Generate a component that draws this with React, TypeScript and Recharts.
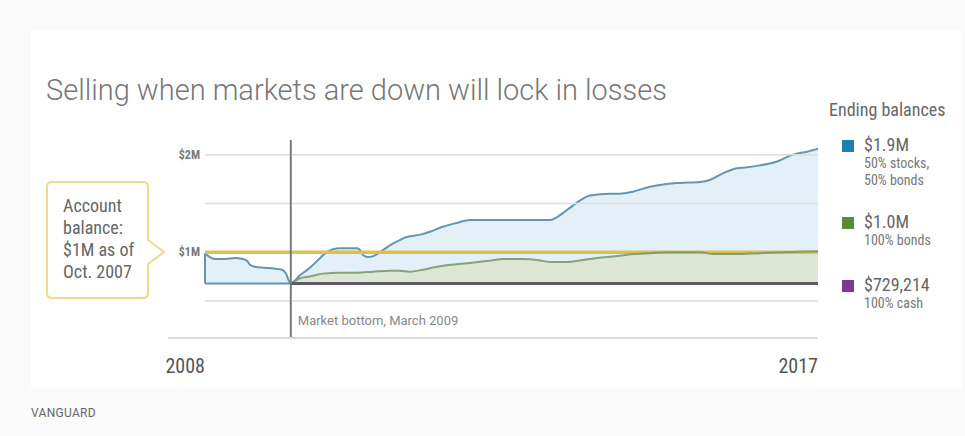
import React from "react";
import {
  ComposedChart,
  Area,
  Line,
  XAxis,
  YAxis,
  ReferenceLine,
} from "recharts";

// 50% stocks / 50% bonds balance, in $M
const stocksYears = [
  2008.0, 2008.07, 2008.15, 2008.29, 2008.44, 2008.56, 2008.62, 2008.66, 2008.73,
  2008.88, 2009.03, 2009.13, 2009.19, 2009.23, 2009.26, 2009.39, 2009.54, 2009.66,
  2009.79, 2009.88, 2009.98,
  2010.23, 2010.28, 2010.32, 2010.39, 2010.47, 2010.57, 2010.67, 2010.82, 2010.94,
  2011.16, 2011.3, 2011.49, 2011.7, 2011.89, 2012.23, 2012.62, 2013.07, 2013.17,
  2013.31, 2013.51, 2013.65, 2013.95, 2014.09, 2014.28, 2014.53, 2014.78, 2014.97,
  2015.27, 2015.41, 2015.61, 2015.81, 2015.96, 2016.15, 2016.4, 2016.63, 2016.84,
  2017.0,
];
const stocksValues = [
  0.99, 0.95, 0.93, 0.93, 0.94, 0.93, 0.91, 0.87, 0.85,
  0.84, 0.83, 0.82, 0.78, 0.71, 0.68, 0.76, 0.84, 0.92,
  1.0, 1.03, 1.04,
  1.04, 1.02, 0.97, 0.95, 0.96, 1.0, 1.05, 1.11, 1.15,
  1.18, 1.21, 1.26, 1.3, 1.33, 1.33, 1.33, 1.33, 1.36,
  1.43, 1.53, 1.58, 1.6, 1.6, 1.62, 1.67, 1.7, 1.71,
  1.72, 1.74, 1.81, 1.86, 1.87, 1.89, 1.93, 2.0, 2.03,
  2.06,
];

// 100% bonds balance, in $M
const bondsYears = [
  2009.26, 2009.39, 2009.54, 2009.73, 2009.98, 2010.23, 2010.47, 2010.72, 2010.86,
  2011.01, 2011.2, 2011.41, 2011.6, 2011.89, 2012.14, 2012.38, 2012.67, 2012.87,
  2013.07, 2013.31, 2013.55, 2013.76, 2014.05, 2014.28, 2014.53, 2014.78, 2015.27,
  2015.46, 2015.75, 2016.15, 2016.49, 2017.0,
];
const bondsValues = [
  0.68, 0.73, 0.75, 0.78, 0.79, 0.79, 0.8, 0.81, 0.81,
  0.8, 0.82, 0.85, 0.87, 0.89, 0.91, 0.93, 0.93, 0.92,
  0.9, 0.9, 0.92, 0.94, 0.96, 0.98, 0.99, 1.0, 1.0,
  0.98, 0.98, 0.99, 1.0, 1.01,
];

// 100% cash balance after selling at the bottom
const cashYears = [2009.26, 2017.0];
const cashValues = [0.68, 0.68];

// starting account balance
const accountYears = [2008.0, 2017.0];
const accountValues = [1.0, 1.0];

const marketBottom = 2009.26;
const gridValues = [2, 1.5, 1, 0.5];
const gridLabels = ["$2M", "", "$1M", ""];
const yearTicks = [2008, 2017];

const toRows = (xs: number[], ys: number[]) =>
  xs.map((x, i) => ({ year: x, value: ys[i] }));

const stocksData = toRows(stocksYears, stocksValues);
const bondsData = toRows(bondsYears, bondsValues);
const cashData = toRows(cashYears, cashValues);
const accountData = toRows(accountYears, accountValues);

const NARROW =
  '"Liberation Sans Narrow", "Roboto Condensed", "DejaVu Sans Condensed", Roboto, sans-serif';

const BLUE_LINE = "#6596ad";
const BLUE_FILL = "#e3f0f8";
const GREEN_LINE = "#77946a";
const GREEN_FILL = "#dde8d4";
const CASH = "#5e5a6c";
const GOLD = "#dcc14c";

const YearTick = (props: any) => {
  const { x, y, payload } = props;
  return (
    <text
      x={x}
      y={y + 35}
      textAnchor="end"
      fontFamily={NARROW}
      fontSize={20}
      fill="#555"
    >
      {payload.value}
    </text>
  );
};

const gridLabel = (text: string) => (props: any) => {
  if (!text) return null;
  const vb = props.viewBox || {};
  return (
    <text
      x={vb.x - 5}
      y={vb.y + 4}
      textAnchor="end"
      fontFamily={NARROW}
      fontSize={12}
      fontWeight={700}
      fill="#7a7a7a"
    >
      {text}
    </text>
  );
};

const bottomLabel = (props: any) => {
  const vb = props.viewBox || {};
  return (
    <text
      x={vb.x + 7}
      y={vb.y + vb.height - 13}
      fontFamily="Roboto, sans-serif"
      fontSize={13}
      fill="#888"
    >
      Market bottom, March 2009
    </text>
  );
};

const legendItems = [
  { color: "#1b7fb3", value: "$1.9M", lines: ["50% stocks,", "50% bonds"], top: 137 },
  { color: "#5b8a35", value: "$1.0M", lines: ["100% bonds"], top: 214 },
  { color: "#7b3a96", value: "$729,214", lines: ["100% cash"], top: 277 },
];

export default function App() {
  return (
    <div
      style={{
        position: "fixed",
        left: 0,
        top: 0,
        width: 965,
        height: 436,
        background: "#fafafa",
        overflow: "hidden",
      }}
    >
      <div
        style={{
          position: "absolute",
          left: 31,
          top: 29,
          width: 931,
          height: 360,
          background: "#fff",
        }}
      />
      <div
        style={{
          position: "absolute",
          left: 46,
          top: 73,
          fontFamily: "Roboto, sans-serif",
          fontWeight: 300,
          fontSize: 29,
          color: "#777",
          whiteSpace: "nowrap",
        }}
      >
        Selling when markets are down will lock in losses
      </div>

      <div style={{ position: "absolute", left: 0, top: 0 }}>
        <ComposedChart
          width={965}
          height={436}
          margin={{ top: 140, right: 147, bottom: 68, left: 168 }}
        >
          <XAxis
            dataKey="year"
            type="number"
            domain={[2007.457, 2017]}
            ticks={yearTicks}
            tick={<YearTick />}
            tickLine={false}
            tickSize={0}
            tickMargin={0}
            height={30}
            axisLine={{ stroke: "#dcdcdc", strokeWidth: 2 }}
            allowDataOverflow
          />
          <YAxis hide type="number" domain={[0.12, 2.15]} allowDataOverflow />

          {gridValues.map((v, i) => (
            <ReferenceLine
              key={v}
              segment={[
                { x: 2008, y: v },
                { x: 2017, y: v },
              ]}
              stroke="#dedede"
              strokeWidth={1.5}
              label={gridLabel(gridLabels[i])}
            />
          ))}

          <Area
            data={stocksData}
            dataKey="value"
            type="monotone"
            baseValue={0.68}
            stroke={BLUE_LINE}
            strokeWidth={2}
            fill={BLUE_FILL}
            fillOpacity={1}
            isAnimationActive={false}
            dot={false}
            activeDot={false}
          />
          <ReferenceLine
            segment={[
              { x: 2008, y: 0.68 },
              { x: 2008, y: 0.99 },
            ]}
            stroke={BLUE_LINE}
            strokeWidth={2}
          />
          <ReferenceLine
            segment={[
              { x: 2008, y: 0.68 },
              { x: marketBottom, y: 0.68 },
            ]}
            stroke={BLUE_LINE}
            strokeWidth={2}
          />
          <Area
            data={bondsData}
            dataKey="value"
            type="monotone"
            baseValue={0.68}
            stroke="none"
            fill={GREEN_FILL}
            fillOpacity={1}
            isAnimationActive={false}
            dot={false}
            activeDot={false}
          />
          <Line
            data={accountData}
            dataKey="value"
            type="linear"
            stroke={GOLD}
            strokeWidth={3.5}
            dot={false}
            activeDot={false}
            isAnimationActive={false}
          />
          <Line
            data={bondsData}
            dataKey="value"
            type="monotone"
            stroke={GREEN_LINE}
            strokeWidth={2}
            strokeOpacity={0.85}
            dot={false}
            activeDot={false}
            isAnimationActive={false}
          />
          <Line
            data={cashData}
            dataKey="value"
            type="linear"
            stroke={CASH}
            strokeWidth={3}
            dot={false}
            activeDot={false}
            isAnimationActive={false}
          />
          <ReferenceLine
            x={marketBottom}
            stroke="#7a7a7a"
            strokeWidth={2}
            label={bottomLabel}
          />
        </ComposedChart>
      </div>

      {/* callout box */}
      <svg
        style={{ position: "absolute", left: 0, top: 0 }}
        width={200}
        height={320}
      >
        <path
          d="M52 182 H143 Q148 182 148 187 V240 L164 252 L148 264 V293 Q148 298 143 298 H52 Q47 298 47 293 V187 Q47 182 52 182 Z"
          fill="#fff"
          stroke="#ecdb8e"
          strokeWidth={2}
        />
      </svg>
      <div
        style={{
          position: "absolute",
          left: 63,
          top: 195,
          fontFamily: NARROW,
          fontSize: 18,
          lineHeight: "22px",
          color: "#666",
        }}
      >
        Account
        <br />
        balance:
        <br />
        $1M as of
        <br />
        Oct. 2007
      </div>

      {/* legend */}
      <div
        style={{
          position: "absolute",
          left: 829,
          top: 99,
          fontFamily: NARROW,
          fontSize: 18,
          color: "#666",
          whiteSpace: "nowrap",
        }}
      >
        Ending balances
      </div>
      {legendItems.map((it) => (
        <div
          key={it.value}
          style={{ position: "absolute", left: 842, top: it.top, whiteSpace: "nowrap" }}
        >
          <div
            style={{
              position: "absolute",
              left: 0,
              top: 3,
              width: 12,
              height: 12,
              background: it.color,
            }}
          />
          <div
            style={{
              position: "absolute",
              left: 22,
              top: -2,
              fontFamily: NARROW,
              fontSize: 18,
              lineHeight: "20px",
              color: "#666",
            }}
          >
            {it.value}
            {it.lines.map((l) => (
              <div key={l} style={{ fontSize: 14, lineHeight: "17px", color: "#777" }}>
                {l}
              </div>
            ))}
          </div>
        </div>
      ))}

      <div
        style={{
          position: "absolute",
          left: 31,
          top: 406,
          fontFamily: "Roboto, sans-serif",
          fontSize: 12,
          color: "#666",
          letterSpacing: 0.3,
        }}
      >
        VANGUARD
      </div>
    </div>
  );
}
